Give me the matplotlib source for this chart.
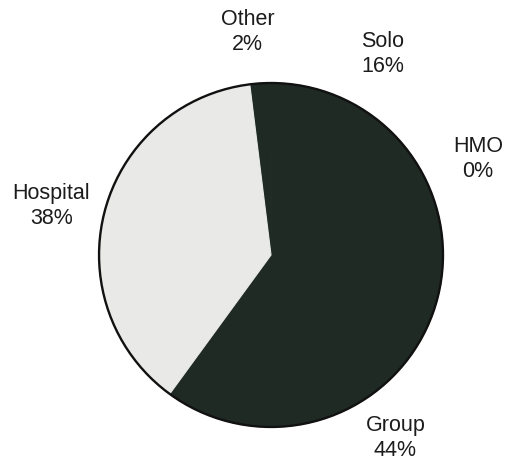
import numpy as np
import matplotlib
matplotlib.use("Agg")
import matplotlib.pyplot as plt

categories = ["Other", "Solo", "HMO", "Group", "Hospital"]
values = [2, 16, 0, 44, 38]
pct_labels = ["2%", "16%", "0%", "44%", "38%"]

colors = ["#1f2a25", "#1f2a25", "#1f2a25", "#1f2a25", "#e9e9e7"]
# label placement style (radius factor, angular nudge in degrees)
label_radius = [1.31, 1.34, 1.33, 1.28, 1.31]
label_nudge = [2.4, 0.0, -7.2, -8.7, 1.6]

fig = plt.figure(figsize=(5.14, 4.64), dpi=100)
ax = fig.add_axes([0, 0, 1, 1])

wedges, _ = ax.pie(values, colors=colors, startangle=97.1, counterclock=False,
                   radius=1.0, normalize=True,
                   wedgeprops=dict(linewidth=0.8))
for w, c in zip(wedges, colors):
    w.set_edgecolor(c)

outline = plt.Circle((0, 0), 1.0, fill=False, edgecolor="#111111", linewidth=1.7)
ax.add_patch(outline)

ax.set_xlim(-1.576, 1.413)
ax.set_ylim(-1.209, 1.488)
ax.set_aspect("equal")
ax.axis("off")

for w, cat, pl, r, nd in zip(wedges, categories, pct_labels, label_radius, label_nudge):
    mid = np.deg2rad((w.theta1 + w.theta2) / 2 + nd)
    x, y = r * np.cos(mid), r * np.sin(mid)
    ax.text(x, y, f"{cat}\n{pl}", ha="center", va="center",
            fontsize=15.5, family="Liberation Sans", color="#1c1c1c",
            linespacing=1.25)

fig.savefig("out.png", dpi=100, facecolor="white")
